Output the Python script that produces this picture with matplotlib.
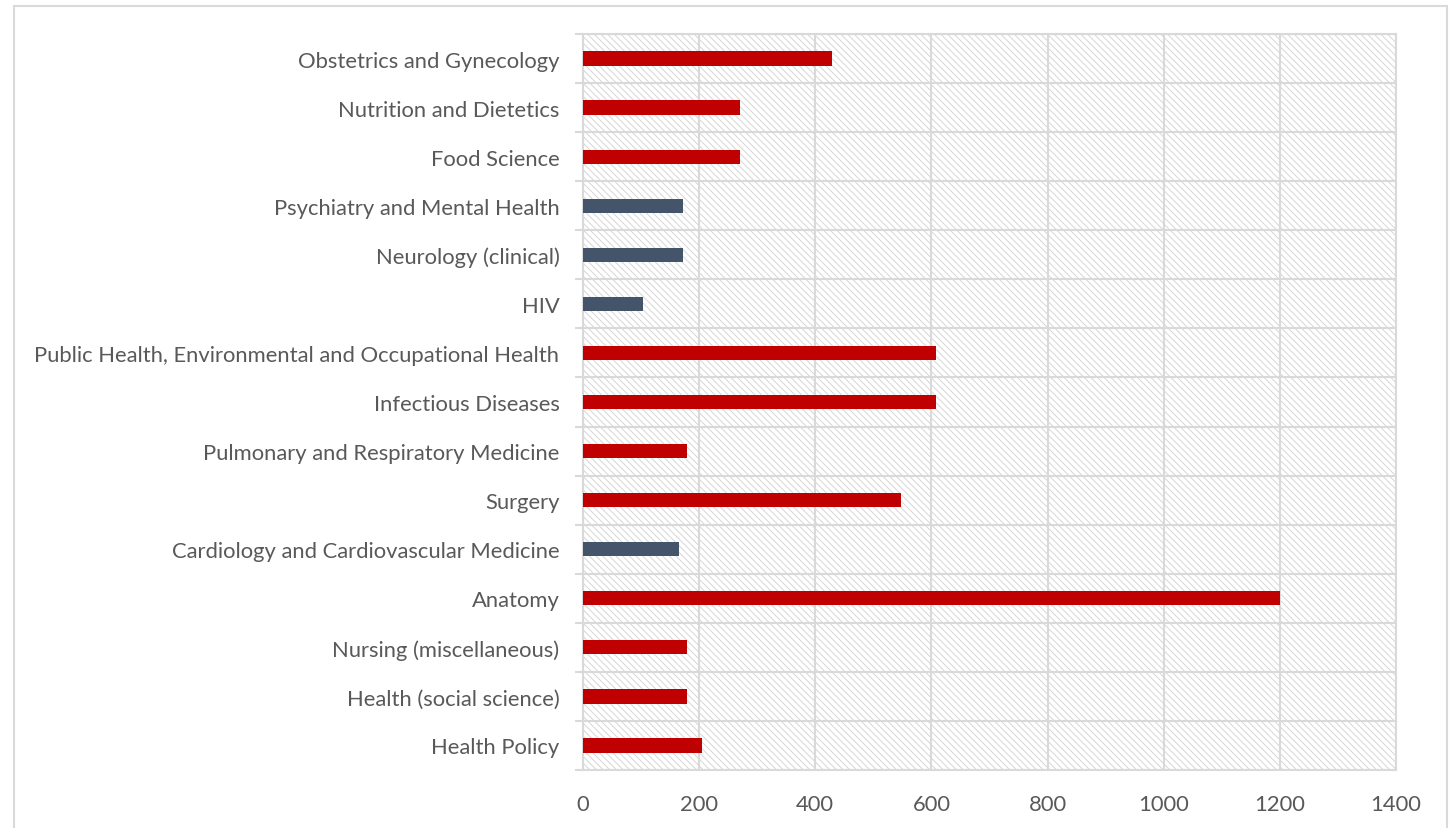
import matplotlib
matplotlib.use("Agg")
import matplotlib.pyplot as plt
from matplotlib.patches import Rectangle
import numpy as np

categories = [
    "Health Policy",
    "Health (social science)",
    "Nursing (miscellaneous)",
    "Anatomy",
    "Cardiology and Cardiovascular Medicine",
    "Surgery",
    "Pulmonary and Respiratory Medicine",
    "Infectious Diseases",
    "Public Health, Environmental and Occupational Health",
    "HIV",
    "Neurology (clinical)",
    "Psychiatry and Mental Health",
    "Food Science",
    "Nutrition and Dietetics",
    "Obstetrics and Gynecology",
]
values = [205, 179, 179, 1200, 165, 547, 179, 608, 608, 103, 172, 172, 270, 270, 429]
groups = ["red", "red", "red", "red", "blue", "red", "red", "red", "red",
          "blue", "blue", "blue", "red", "red", "red"]
xticks = [0, 200, 400, 600, 800, 1000, 1200, 1400]

color_map = {"red": "#C00000", "blue": "#44546A"}
grid_col = "#D9D9D9"
text_col = "#595959"

plt.rcParams["font.family"] = ["Lato", "DejaVu Sans"]
plt.rcParams["hatch.linewidth"] = 0.7

fig = plt.figure(figsize=(14.56, 8.29), dpi=100)
ax = fig.add_axes([583/1456, 1 - 771/829, (1396-583)/1456, (771-35)/829])

# outer chart border
fig.patches.append(Rectangle((14/1456, -0.01), (1447-14)/1456, 1 - 7/829 + 0.01,
                             transform=fig.transFigure, fill=False,
                             edgecolor=grid_col, linewidth=1.5, zorder=0))

# hatched plot area background
ax.set_facecolor("white")
ax.add_patch(Rectangle((0, 0), 1, 1, transform=ax.transAxes, facecolor="white",
                       edgecolor="#D6D6D6", hatch="\\" * 5, linewidth=0, zorder=0))

y = np.arange(len(categories))
ax.barh(y, values, height=0.29, color=[color_map[g] for g in groups], zorder=3)

ax.set_xlim(0, 1400)
ax.set_ylim(-0.5, len(categories) - 0.5)
ax.set_xticks(xticks)
ax.set_xticklabels([str(t) for t in xticks])
ax.set_yticks(y)
ax.set_yticklabels(categories)
ax.set_yticks(np.arange(-0.5, len(categories), 1.0), minor=True)

ax.grid(axis="x", which="major", color=grid_col, linewidth=1.5, zorder=1)
ax.grid(axis="y", which="minor", color=grid_col, linewidth=1.5, zorder=1)
ax.set_axisbelow(True)

for s in ax.spines.values():
    s.set_color(grid_col)
    s.set_linewidth(1.5)

ax.tick_params(axis="y", which="major", length=0, pad=17, labelsize=15.8, labelcolor=text_col)
ax.tick_params(axis="y", which="minor", length=6, width=1.5, color=grid_col)
ax.tick_params(axis="x", which="major", length=0, pad=17, labelsize=15.8, labelcolor=text_col)

fig.savefig("out.png", dpi=100, facecolor="white")
